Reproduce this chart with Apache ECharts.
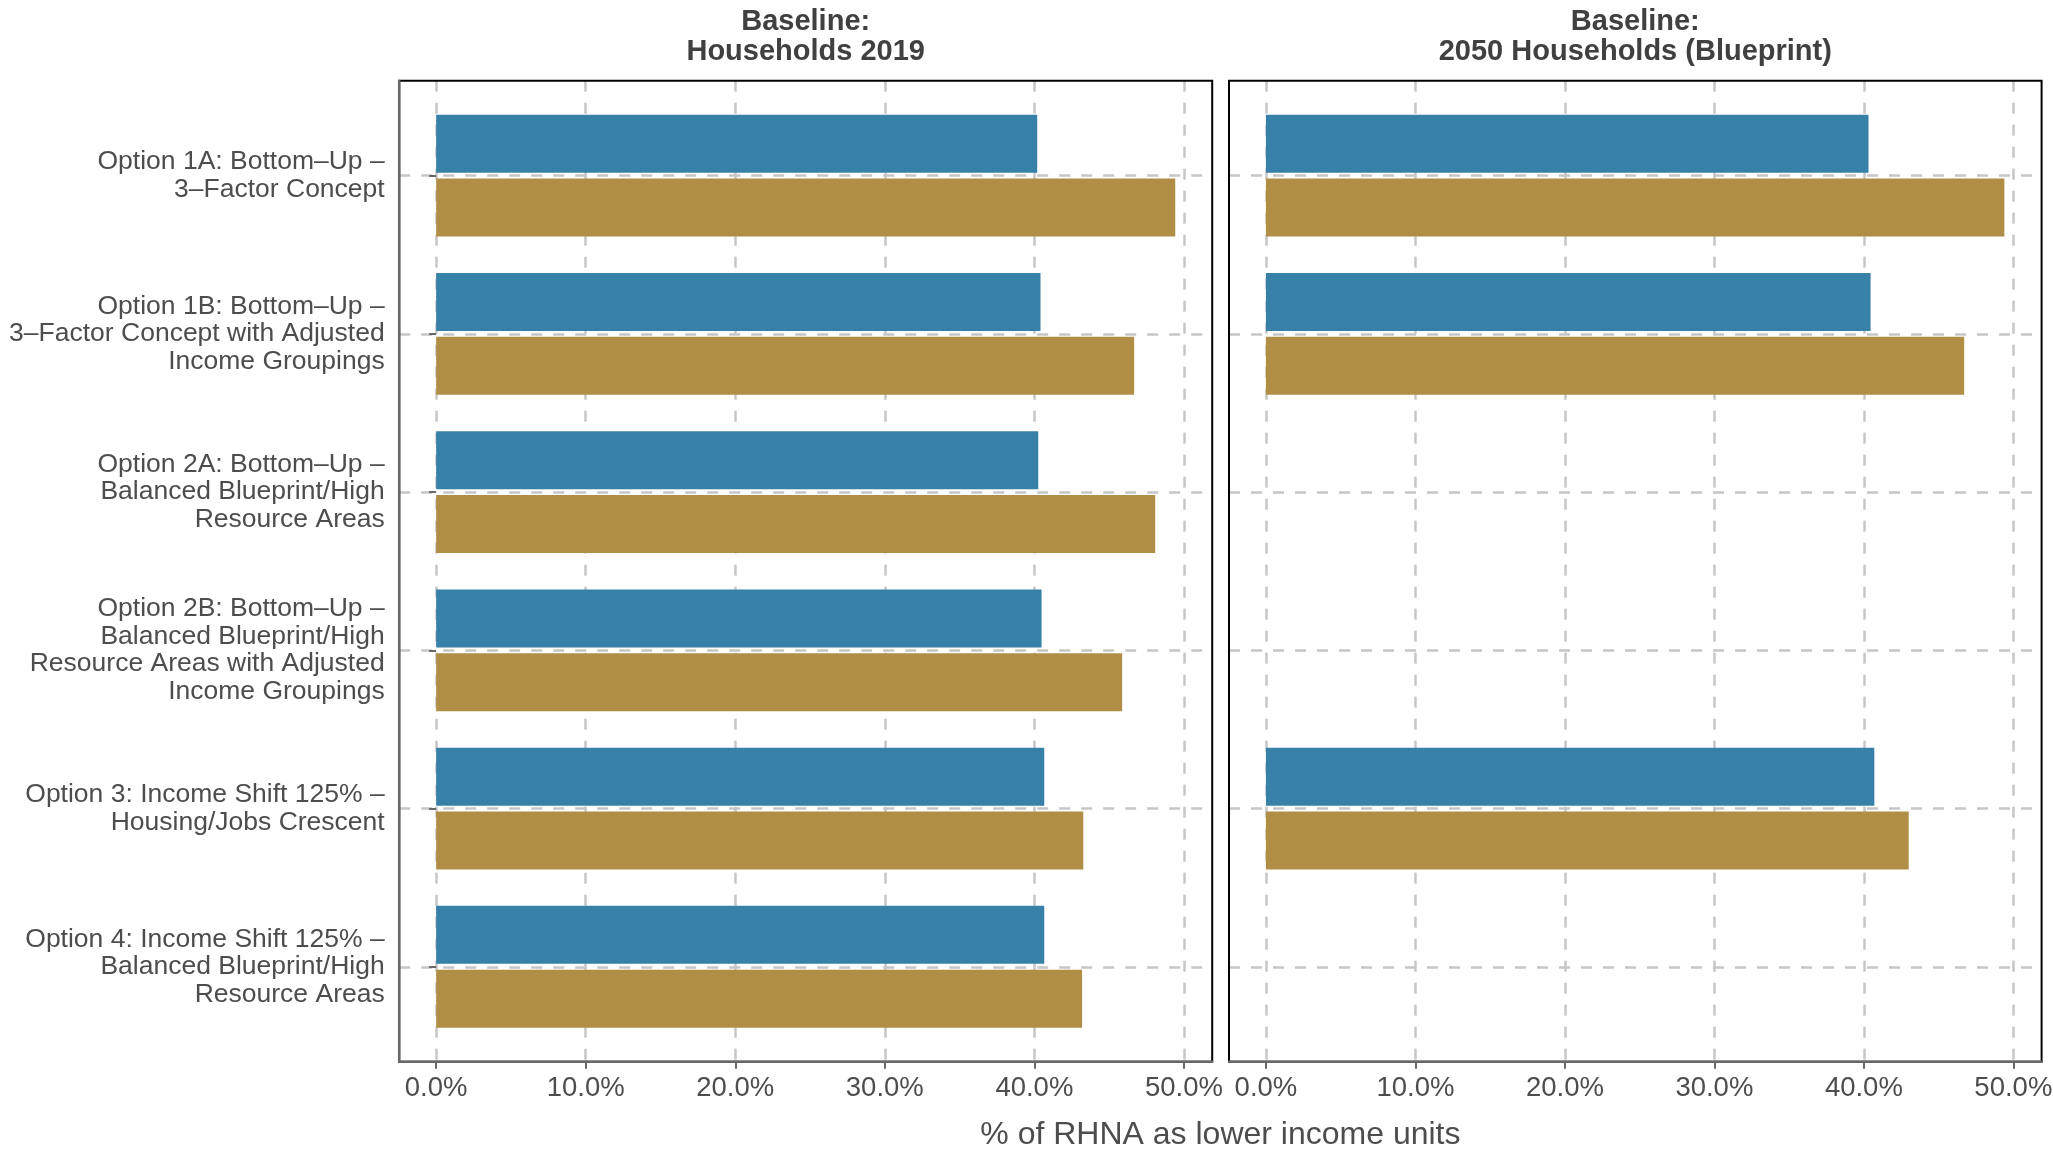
<!DOCTYPE html>
<html>
<head>
<meta charset="utf-8">
<title>Lower income units share</title>
<script src="https://cdn.jsdelivr.net/npm/echarts@6/dist/echarts.min.js"></script>
<style>
  html, body { margin: 0; padding: 0; background: #fff; }
  #main { width: 2053px; height: 1149px; }
</style>
</head>
<body>
<div id="main"></div>
<script>
// 数据
var options = [
    "Option 1A: Bottom\u2013Up \u2013\n3\u2013Factor Concept",
    "Option 1B: Bottom\u2013Up \u2013\n3\u2013Factor Concept with Adjusted\nIncome Groupings",
    "Option 2A: Bottom\u2013Up \u2013\nBalanced Blueprint/High\nResource Areas",
    "Option 2B: Bottom\u2013Up \u2013\nBalanced Blueprint/High\nResource Areas with Adjusted\nIncome Groupings",
    "Option 3: Income Shift 125% \u2013\nHousing/Jobs Crescent",
    "Option 4: Income Shift 125% \u2013\nBalanced Blueprint/High\nResource Areas"
];
var panelTitles = ["Baseline:\nHouseholds 2019", "Baseline:\n2050 Households (Blueprint)"];
var xTicks = [0, 10, 20, 30, 40, 50];

// 左: Households 2019
var leftBlue = [40.19, 40.41, 40.26, 40.48, 40.66, 40.66];
var leftGold = [49.42, 46.67, 48.08, 45.87, 43.27, 43.19];
// 右: 2050 Households (Blueprint)
var rightBlue = [40.31, 40.45, '-', '-', 40.70, '-'];
var rightGold = [49.40, 46.71, '-', '-', 43.00, '-'];

var xTitle = "% of RHNA as lower income units";

// 布局
var FRAME_TOP = 80.7, FRAME_BOTTOM = 1061.7;
var panels = [{left: 399.2, right: 1212.2}, {left: 1229, right: 2041.6}];
var X_MIN = -2.47, X_MAX = 51.89;   // ggplot expanded limits
var BLUE = '#3780A8', GOLD = '#B18E45';
var GRID_COLOR = '#c6c6c6', AXIS_COLOR = '#686868', TEXT_COLOR = '#4d4d4d';
var FONT = 'Liberation Sans, Arial, sans-serif';

var pitch = (FRAME_BOTTOM - FRAME_TOP) / (options.length - 1 + 1.2);
var catTop = FRAME_TOP + 0.6 * pitch;
var catHeight = (options.length - 1) * pitch;

var grids = [], xAxes = [], yAxes = [], graphics = [];
var seriesData = [[leftBlue, leftGold], [rightBlue, rightGold]];
var series = [];

panels.forEach(function (p, i) {
    var w = p.right - p.left;
    var pxPer = w / (X_MAX - X_MIN);
    var isLeft = i === 0;

    // grid A: 柱子 + 横向虚线
    grids.push({left: p.left, top: catTop, width: w, height: catHeight,
        containLabel: false, outerBoundsMode: 'none'});
    xAxes.push({gridIndex: 2 * i, type: 'value', min: X_MIN, max: X_MAX, show: false});
    yAxes.push({
        gridIndex: 2 * i, type: 'category', data: options, inverse: true, boundaryGap: false,
        axisLine: {show: false},
        axisTick: {show: isLeft, length: 7, lineStyle: {color: AXIS_COLOR, width: 2}},
        axisLabel: {show: isLeft, interval: 0, margin: 14.5, fontSize: 26.5, lineHeight: 27.5,
            color: TEXT_COLOR, fontFamily: FONT, align: 'right'},
        splitLine: {show: true, lineStyle: {color: GRID_COLOR, width: 2.5, type: [11, 11]}}
    });

    // grid B: 纵向虚线 + x 轴标签
    grids.push({left: p.left + (0 - X_MIN) * pxPer, top: FRAME_TOP,
        width: 50 * pxPer, height: FRAME_BOTTOM - FRAME_TOP,
        containLabel: false, outerBoundsMode: 'none'});
    xAxes.push({
        gridIndex: 2 * i + 1, type: 'value', min: 0, max: 50, interval: 10,
        axisLine: {show: false},
        axisTick: {show: true, length: 7, lineStyle: {color: AXIS_COLOR, width: 2}},
        axisLabel: {margin: 13, fontSize: 27.5, color: TEXT_COLOR, fontFamily: FONT,
            formatter: function (v) { return v.toFixed(1) + '%'; }},
        splitLine: {show: true, lineStyle: {color: GRID_COLOR, width: 2.5, type: [11, 11]}}
    });
    yAxes.push({gridIndex: 2 * i + 1, type: 'value', min: 0, max: 1, show: false});

    seriesData[i].forEach(function (d, j) {
        series.push({
            type: 'bar', xAxisIndex: 2 * i, yAxisIndex: 2 * i, data: d,
            barWidth: 58, barGap: '10%',
            itemStyle: {color: j === 0 ? BLUE : GOLD},
            silent: true
        });
    });

    // 面板边框
    graphics.push({type: 'rect', z: 100, silent: true,
        shape: {x: p.left, y: FRAME_TOP, width: w, height: FRAME_BOTTOM - FRAME_TOP},
        style: {fill: null, stroke: '#000', lineWidth: 2}});
    graphics.push({type: 'line', z: 101, silent: true,
        shape: {x1: p.left - 1, y1: FRAME_BOTTOM, x2: p.right + 1, y2: FRAME_BOTTOM},
        style: {stroke: AXIS_COLOR, lineWidth: 2.5}});
    if (isLeft) {
        graphics.push({type: 'line', z: 101, silent: true,
            shape: {x1: p.left, y1: FRAME_TOP - 1, x2: p.left, y2: FRAME_BOTTOM + 1},
            style: {stroke: AXIS_COLOR, lineWidth: 2.5}});
    }
    // 面板标题
    graphics.push({type: 'text', silent: true,
        x: (p.left + p.right) / 2, y: 37,
        style: {text: panelTitles[i], fill: '#404040', font: 'bold 29px ' + FONT,
            lineHeight: 30, align: 'center', verticalAlign: 'middle'}});
});

graphics.push({type: 'text', silent: true,
    x: (panels[0].left + panels[1].right) / 2, y: 1135.5,
    style: {text: xTitle, fill: TEXT_COLOR, font: '32px ' + FONT,
        align: 'center', verticalAlign: 'middle'}});

var myChart = echarts.init(document.getElementById('main'));
var option = {
    animation: false,
    backgroundColor: '#fff',
    grid: grids,
    xAxis: xAxes,
    yAxis: yAxes,
    series: series,
    graphic: graphics
};
myChart.setOption(option);
</script>
</body>
</html>
